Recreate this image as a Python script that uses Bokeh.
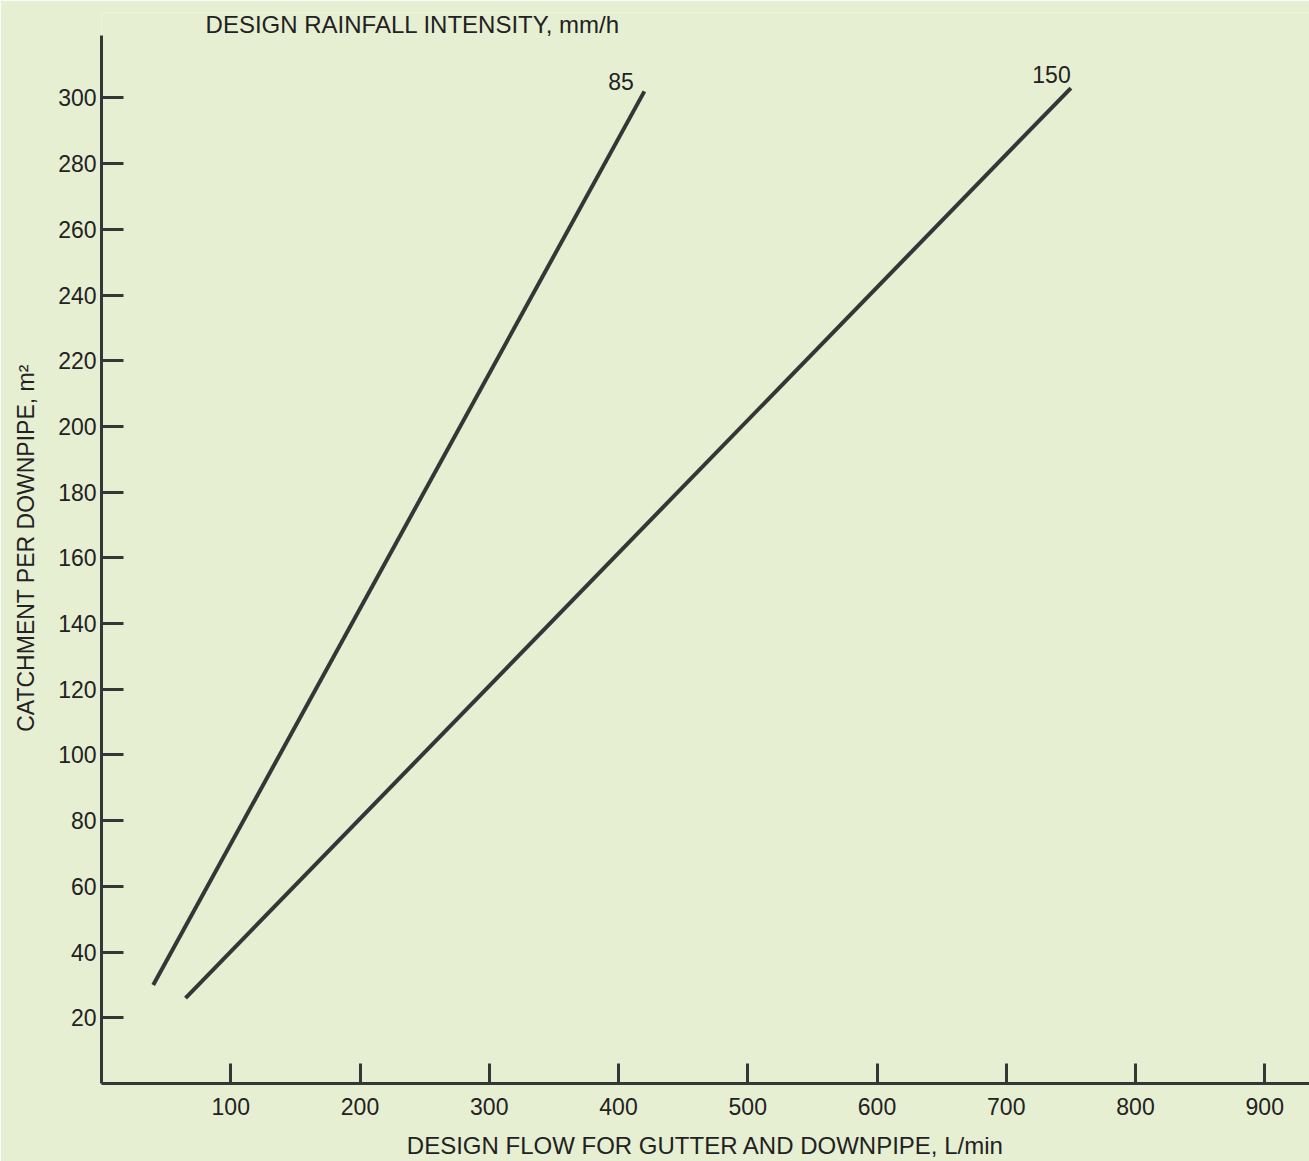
from bokeh.plotting import figure
from bokeh.models import Label, Range1d, FixedTicker
from bokeh.embed import file_html
from bokeh.resources import INLINE

# Data
flow_85 = [40, 420]
catch_85 = [30, 302]
flow_150 = [65, 750]
catch_150 = [26, 303]
x_ticks = [100, 200, 300, 400, 500, 600, 700, 800, 900]
y_ticks = [20, 40, 60, 80, 100, 120, 140, 160, 180, 200, 220, 240, 260, 280, 300]
series_labels = ["85", "150"]
label_pos_x = [402, 735]
label_pos_y = [305, 307]

BG = "#e7efd3"
INK = "#363636"
TXT = "#222222"
FONT = "Liberation Sans"

p = figure(width=1309, height=1161, output_backend="svg", toolbar_location=None,
           x_range=Range1d(0, 934.6), y_range=Range1d(0, 326),
           min_border_left=101, min_border_right=0, min_border_top=12, min_border_bottom=78)
p.background_fill_color = BG
p.border_fill_color = BG
p.outline_line_color = None
p.grid.visible = False

p.line(flow_85, catch_85, line_color=INK, line_width=4)
p.line(flow_150, catch_150, line_color=INK, line_width=4)

for t, lx, ly in zip(series_labels, label_pos_x, label_pos_y):
    p.add_layout(Label(x=lx, y=ly, text=t, text_font=FONT, text_font_size="23px",
                       text_color=TXT, text_align="center", text_baseline="middle"))

p.add_layout(Label(x=80.5, y=322.3, text="DESIGN RAINFALL INTENSITY, mm/h", text_font=FONT,
                   text_font_size="24px", text_color=TXT, text_align="left",
                   text_baseline="alphabetic"))

xa = p.xaxis[0]
xa.ticker = FixedTicker(ticks=x_ticks)
xa.minor_tick_line_color = None
xa.major_tick_in = 20
xa.major_tick_out = 0
xa.major_tick_line_width = 3
xa.major_tick_line_color = INK
xa.axis_line_width = 3
xa.axis_line_color = INK
xa.major_label_text_font = FONT
xa.major_label_text_font_size = "23px"
xa.major_label_text_color = TXT
xa.major_label_standoff = 14
xa.axis_label = "DESIGN FLOW FOR GUTTER AND DOWNPIPE, L/min"
xa.axis_label_text_font = FONT
xa.axis_label_text_font_size = "24px"
xa.axis_label_text_font_style = "normal"
xa.axis_label_text_color = TXT
xa.axis_label_standoff = 14

ya = p.yaxis[0]
ya.ticker = FixedTicker(ticks=y_ticks)
ya.bounds = (0, 319)
ya.minor_tick_line_color = None
ya.major_tick_in = 22
ya.major_tick_out = 0
ya.major_tick_line_width = 3
ya.major_tick_line_color = INK
ya.axis_line_width = 3
ya.axis_line_color = INK
ya.major_label_text_font = FONT
ya.major_label_text_font_size = "23px"
ya.major_label_text_color = TXT
ya.major_label_standoff = 5
ya.axis_label = "CATCHMENT PER DOWNPIPE, m²"
ya.axis_label_text_font = FONT
ya.axis_label_text_font_size = "23px"
ya.axis_label_text_font_style = "normal"
ya.axis_label_text_color = TXT
ya.axis_label_standoff = 16

open("out.html", "w").write(file_html(p, INLINE))
